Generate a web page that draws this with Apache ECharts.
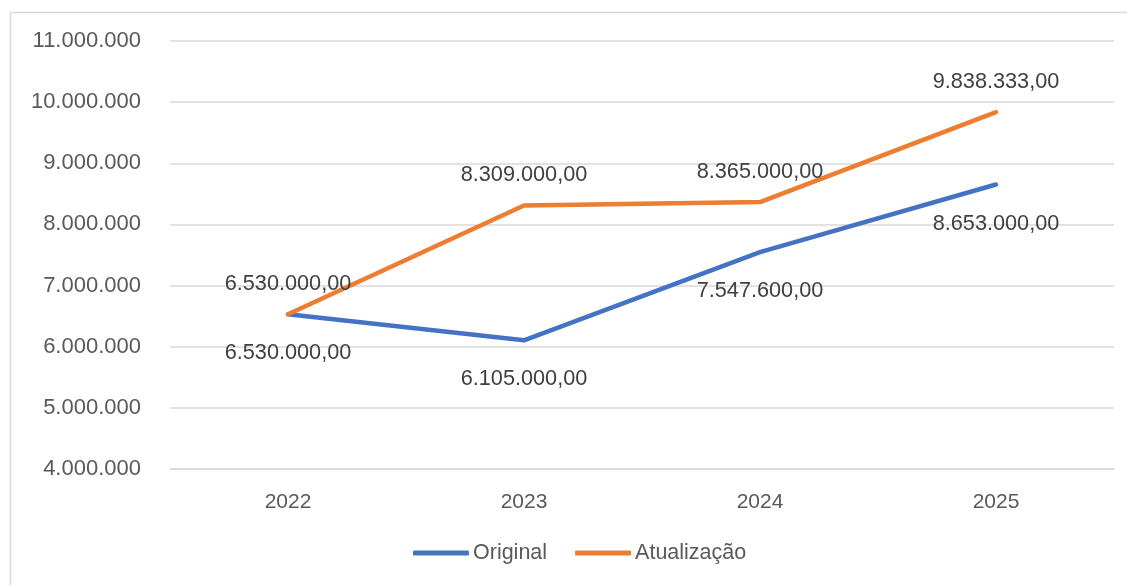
<!DOCTYPE html>
<html>
<head>
<meta charset="utf-8">
<script src="https://cdn.jsdelivr.net/npm/echarts@6/dist/echarts.min.js"></script>
<style>
  html, body { margin: 0; padding: 0; background: #ffffff; }
  #chart { width: 1127px; height: 585px; }
</style>
</head>
<body>
<div id="chart"></div>
<script>
// Years on the category axis
const years = ['2022', '2023', '2024', '2025'];
// Original budget values
const original = [6530000, 6105000, 7547600, 8653000];
// Updated budget values
const atualizacao = [6530000, 8309000, 8365000, 9838333];
// Value axis range
const yMin = 4000000;
const yMax = 11000000;
const yStep = 1000000;

// Brazilian-style thousands separator
function groupThousands(n) {
  return String(Math.trunc(n)).replace(/\B(?=(\d{3})+(?!\d))/g, '.');
}
function formatDecimal(n) {
  const cents = Math.round((n - Math.trunc(n)) * 100);
  return groupThousands(n) + ',' + String(cents).padStart(2, '0');
}

const FONT = '"Liberation Sans", Arial, sans-serif';

const chart = echarts.init(document.getElementById('chart'), null, { renderer: 'canvas' });
chart.setOption({
  backgroundColor: '#ffffff',
  animation: false,
  textStyle: { fontFamily: FONT },
  graphic: [{
    type: 'rect',
    shape: { x: 10.5, y: 12.5, width: 1130, height: 590 },
    style: { fill: 'none', stroke: '#d9d9d9', lineWidth: 1.5 },
    silent: true
  }],
  grid: { left: 170, right: 13, top: 41, bottom: 116 },
  legend: {
    bottom: 16,
    left: 408,
    icon: 'roundRect',
    itemWidth: 56,
    itemHeight: 5,
    itemGap: 28,
    textStyle: { fontFamily: FONT, fontSize: 21.5, color: '#595959', padding: [0, 0, 0, -1] },
    data: ['Original', 'Atualização']
  },
  xAxis: {
    type: 'category',
    data: years,
    boundaryGap: true,
    axisLine: { show: true, lineStyle: { color: '#d9d9d9', width: 1.5 } },
    axisTick: { show: false },
    axisLabel: { fontFamily: FONT, fontSize: 21, color: '#595959', margin: 23 }
  },
  yAxis: {
    type: 'value',
    min: yMin,
    max: yMax,
    interval: yStep,
    axisLine: { show: false },
    axisTick: { show: false },
    splitLine: { lineStyle: { color: '#d9d9d9', width: 1.5 } },
    axisLabel: {
      fontFamily: FONT, fontSize: 22, color: '#595959', margin: 29,
      formatter: v => groupThousands(v)
    }
  },
  series: [
    {
      name: 'Original',
      type: 'line',
      data: original,
      symbol: 'circle',
      symbolSize: 0.1,
      showSymbol: true,
      color: '#4472c4',
      itemStyle: { color: '#4472c4' },
      lineStyle: { width: 4.5, color: '#4472c4', cap: 'round', join: 'round' },
      label: {
        show: true,
        position: 'bottom',
        distance: 28,
        fontFamily: FONT,
        fontSize: 21.7,
        color: '#404040',
        formatter: p => formatDecimal(p.value)
      },
      z: 2
    },
    {
      name: 'Atualização',
      type: 'line',
      data: atualizacao,
      symbol: 'circle',
      symbolSize: 0.1,
      showSymbol: true,
      color: '#ed7d31',
      itemStyle: { color: '#ed7d31' },
      lineStyle: { width: 4.5, color: '#ed7d31', cap: 'round', join: 'round' },
      label: {
        show: true,
        position: 'top',
        distance: 19,
        fontFamily: FONT,
        fontSize: 21.7,
        color: '#404040',
        formatter: p => formatDecimal(p.value)
      },
      z: 3
    }
  ]
});
</script>
</body>
</html>
